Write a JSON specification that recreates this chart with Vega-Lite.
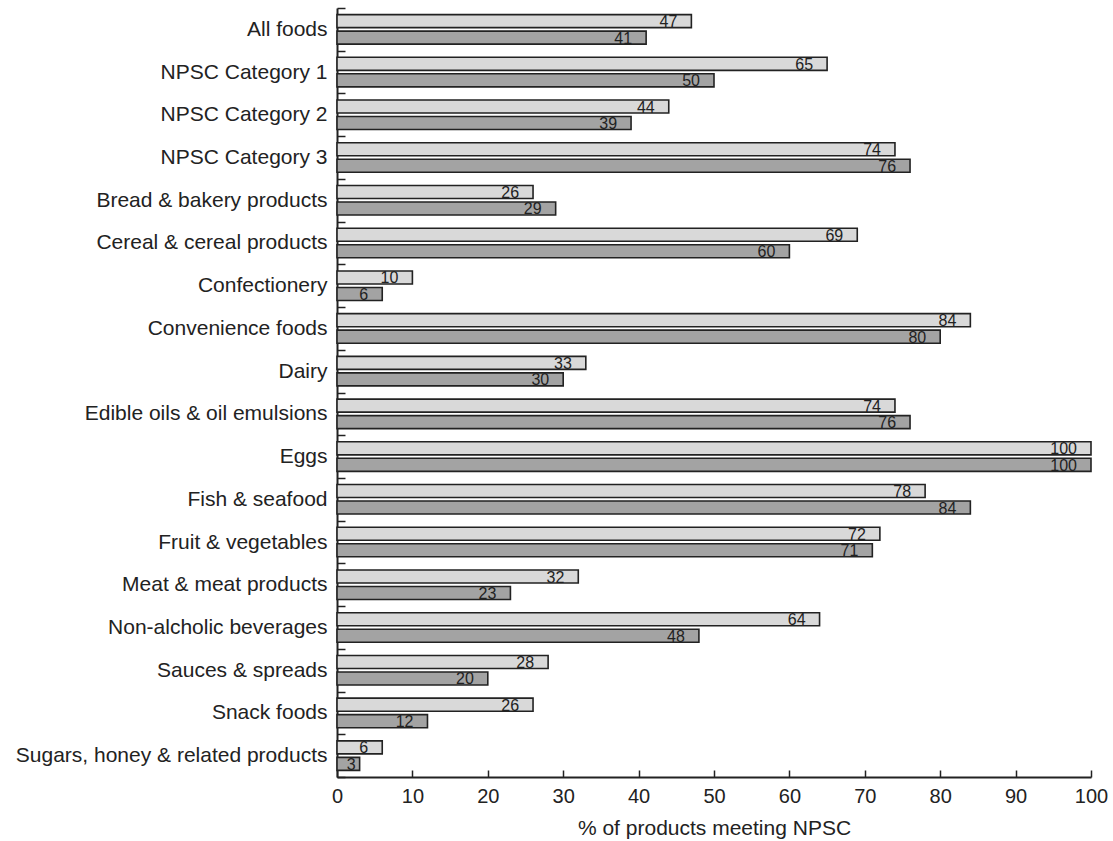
{
  "$schema": "https://vega.github.io/schema/vega-lite/v6.json",
  "width": 754,
  "height": 769,
  "autosize": {"type": "none"},
  "padding": {"left": 337, "top": 8, "right": 22, "bottom": 64},
  "config": {
    "view": {"stroke": null},
    "font": "Liberation Sans",
    "axis": {
      "grid": false,
      "domainColor": "#222222",
      "domainWidth": 2,
      "tickColor": "#222222",
      "tickWidth": 1.5,
      "labelColor": "#222222",
      "titleColor": "#222222",
      "labelFont": "Liberation Sans",
      "titleFont": "Liberation Sans"
    }
  },
  "data": {
    "values": [
      {"category": "All foods", "series": "Series 1", "value": 47},
      {"category": "All foods", "series": "Series 2", "value": 41},
      {"category": "NPSC Category 1", "series": "Series 1", "value": 65},
      {"category": "NPSC Category 1", "series": "Series 2", "value": 50},
      {"category": "NPSC Category 2", "series": "Series 1", "value": 44},
      {"category": "NPSC Category 2", "series": "Series 2", "value": 39},
      {"category": "NPSC Category 3", "series": "Series 1", "value": 74},
      {"category": "NPSC Category 3", "series": "Series 2", "value": 76},
      {"category": "Bread & bakery products", "series": "Series 1", "value": 26},
      {"category": "Bread & bakery products", "series": "Series 2", "value": 29},
      {"category": "Cereal & cereal products", "series": "Series 1", "value": 69},
      {"category": "Cereal & cereal products", "series": "Series 2", "value": 60},
      {"category": "Confectionery", "series": "Series 1", "value": 10},
      {"category": "Confectionery", "series": "Series 2", "value": 6},
      {"category": "Convenience foods", "series": "Series 1", "value": 84},
      {"category": "Convenience foods", "series": "Series 2", "value": 80},
      {"category": "Dairy", "series": "Series 1", "value": 33},
      {"category": "Dairy", "series": "Series 2", "value": 30},
      {"category": "Edible oils & oil emulsions", "series": "Series 1", "value": 74},
      {"category": "Edible oils & oil emulsions", "series": "Series 2", "value": 76},
      {"category": "Eggs", "series": "Series 1", "value": 100},
      {"category": "Eggs", "series": "Series 2", "value": 100},
      {"category": "Fish & seafood", "series": "Series 1", "value": 78},
      {"category": "Fish & seafood", "series": "Series 2", "value": 84},
      {"category": "Fruit & vegetables", "series": "Series 1", "value": 72},
      {"category": "Fruit & vegetables", "series": "Series 2", "value": 71},
      {"category": "Meat & meat products", "series": "Series 1", "value": 32},
      {"category": "Meat & meat products", "series": "Series 2", "value": 23},
      {"category": "Non-alcholic beverages", "series": "Series 1", "value": 64},
      {"category": "Non-alcholic beverages", "series": "Series 2", "value": 48},
      {"category": "Sauces & spreads", "series": "Series 1", "value": 28},
      {"category": "Sauces & spreads", "series": "Series 2", "value": 20},
      {"category": "Snack foods", "series": "Series 1", "value": 26},
      {"category": "Snack foods", "series": "Series 2", "value": 12},
      {"category": "Sugars, honey & related products", "series": "Series 1", "value": 6},
      {"category": "Sugars, honey & related products", "series": "Series 2", "value": 3}
    ]
  },
  "encoding": {
    "y": {
      "field": "category",
      "type": "nominal",
      "sort": null,
      "scale": {"paddingInner": 0, "paddingOuter": 0},
      "axis": {
        "title": null,
        "labelFontSize": 21,
        "labelPadding": 18,
        "tickSize": -8,
        "tickBand": "extent",
        "labelLimit": 400
      }
    },
    "yOffset": {
      "field": "series",
      "type": "nominal",
      "sort": ["Series 1", "Series 2"],
      "scale": {"paddingInner": 0.21, "paddingOuter": 0.4}
    }
  },
  "layer": [
    {
      "mark": {"type": "bar", "stroke": "#222222", "strokeWidth": 1.6},
      "encoding": {
        "x": {
          "field": "value",
          "type": "quantitative",
          "scale": {"domain": [0, 100], "nice": false},
          "axis": {
            "title": "% of products meeting NPSC",
            "titleFontSize": 21,
            "titleFontWeight": "normal",
            "titlePadding": 11,
            "labelFontSize": 20,
            "labelPadding": 16,
            "tickSize": -7,
            "values": [0, 10, 20, 30, 40, 50, 60, 70, 80, 90, 100],
            "labelFlush": false
          }
        },
        "color": {
          "field": "series",
          "type": "nominal",
          "scale": {"domain": ["Series 1", "Series 2"], "range": ["#d9d9d9", "#a3a3a3"]},
          "legend": null
        }
      }
    },
    {
      "transform": [{"filter": "datum.value >= 5"}],
      "mark": {"type": "text", "align": "right", "baseline": "middle", "dx": -14, "dy": 1, "fontSize": 16, "color": "#222222", "font": "Liberation Sans"},
      "encoding": {
        "x": {"field": "value", "type": "quantitative"},
        "text": {"field": "value", "type": "quantitative"}
      }
    },
    {
      "transform": [{"filter": "datum.value < 5"}],
      "mark": {"type": "text", "align": "right", "baseline": "middle", "dx": -4, "dy": 1, "fontSize": 16, "color": "#222222", "font": "Liberation Sans"},
      "encoding": {
        "x": {"field": "value", "type": "quantitative"},
        "text": {"field": "value", "type": "quantitative"}
      }
    }
  ]
}
